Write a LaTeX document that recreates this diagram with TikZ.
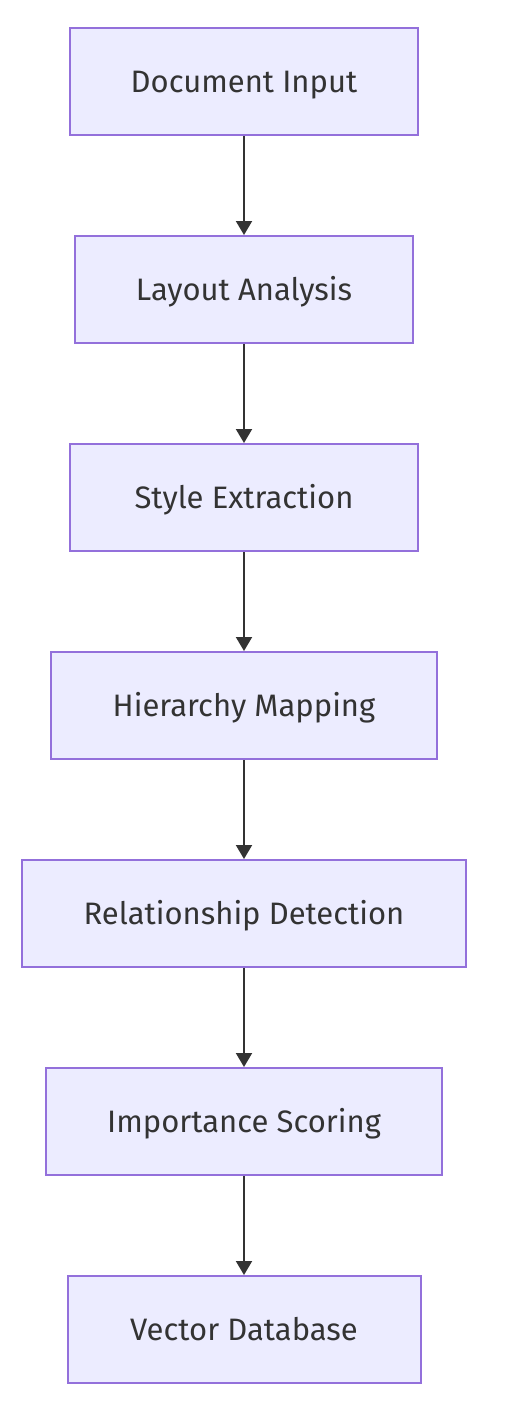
\documentclass[tikz,border=0pt]{standalone}
\usepackage{fontspec}
\setmainfont{Fira Sans}
\usetikzlibrary{arrows.meta}
\definecolor{boxfill}{HTML}{ECECFF}
\definecolor{boxdraw}{HTML}{9370DB}
\definecolor{arrowcol}{HTML}{333333}
\tikzset{
  procbox/.style={draw=boxdraw, fill=boxfill, line width=2pt, minimum height=107pt, inner sep=0pt, font=\fontsize{31}{36}\selectfont, text=arrowcol, text height=21.5pt, text depth=0pt},
  flow/.style={draw=arrowcol, line width=2pt, -{Triangle[length=14pt,width=16pt]}}
}
\begin{document}
\begin{tikzpicture}[x=1pt,y=-1pt]
\useasboundingbox (0,0) rectangle (512,1414);
\node[procbox, minimum width=348pt] (a) at (244,81.5) {Document Input};
\node[procbox, minimum width=338pt] (b) at (244,289.5) {Layout Analysis};
\node[procbox, minimum width=348pt] (c) at (244,497.5) {Style Extraction};
\node[procbox, minimum width=386pt] (d) at (244,705.5) {Hierarchy Mapping};
\node[procbox, minimum width=444pt] (e) at (244,913.5) {Relationship Detection};
\node[procbox, minimum width=396pt] (f) at (244,1121.5) {Importance Scoring};
\node[procbox, minimum width=353pt] (g) at (244,1329.5) {Vector Database};
\draw[flow] (a) -- (b);
\draw[flow] (b) -- (c);
\draw[flow] (c) -- (d);
\draw[flow] (d) -- (e);
\draw[flow] (e) -- (f);
\draw[flow] (f) -- (g);
\end{tikzpicture}
\end{document}
